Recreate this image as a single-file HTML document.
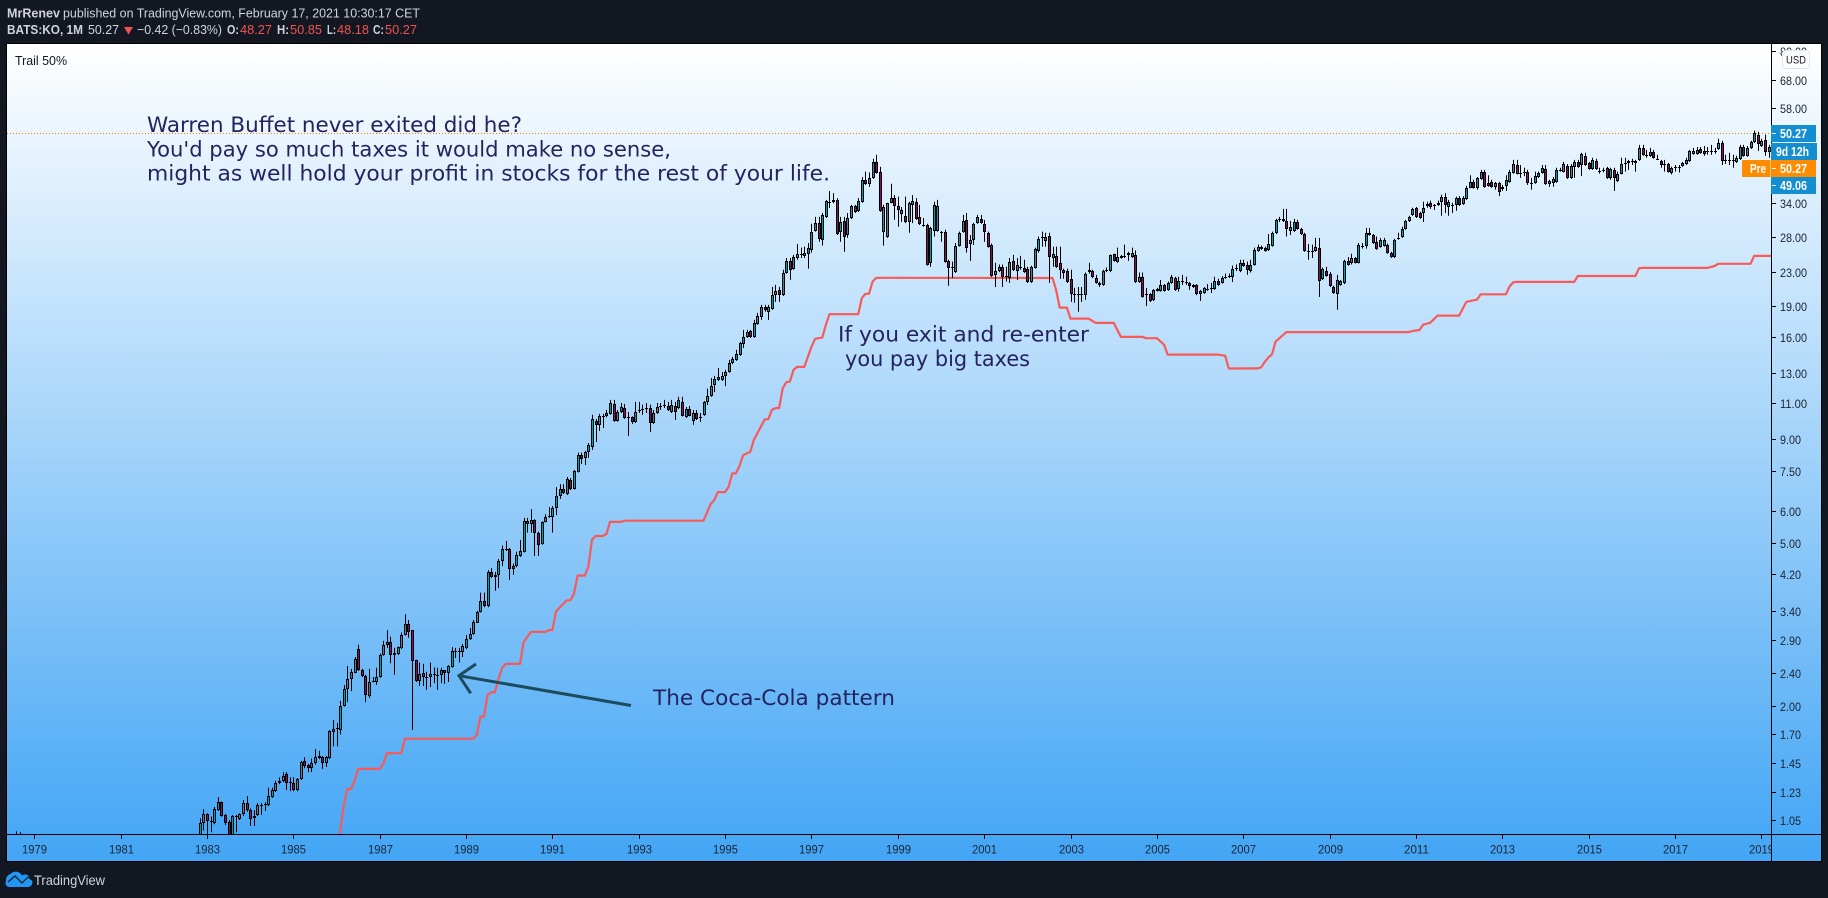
<!DOCTYPE html>
<html>
<head>
<meta charset="utf-8">
<title>KO monthly chart</title>
<style>
html,body{margin:0;padding:0;background:#131722;width:1828px;height:898px;overflow:hidden}
svg{display:block}
text{font-family:"Liberation Sans",sans-serif}
.note{font-family:"DejaVu Sans","Liberation Sans",sans-serif}
</style>
</head>
<body>
<svg id="chart" xmlns="http://www.w3.org/2000/svg" width="1828" height="898" viewBox="0 0 1828 898">
  <defs>
    <linearGradient id="bg" x1="0" y1="0" x2="0" y2="1">
      <stop offset="0" stop-color="#ffffff"/>
      <stop offset="1" stop-color="#42a5f5"/>
    </linearGradient>
    <clipPath id="plotClip"><rect x="7" y="44" width="1764" height="790"/></clipPath>
    <clipPath id="timeClip"><rect x="7" y="834" width="1764" height="27"/></clipPath>
  </defs>
  <rect x="0" y="0" width="1828" height="898" fill="#131722"/>

  <g fill="#d1d4dc" font-size="13">
    <text x="7" y="17.5" font-weight="bold" textLength="53" lengthAdjust="spacingAndGlyphs">MrRenev</text>
    <text x="63" y="17.5" textLength="357" lengthAdjust="spacingAndGlyphs">published on TradingView.com, February 17, 2021 10:30:17 CET</text>
    <text x="7" y="34" font-weight="bold" textLength="76" lengthAdjust="spacingAndGlyphs">BATS:KO, 1M</text>
    <text x="88" y="34" textLength="31" lengthAdjust="spacingAndGlyphs">50.27</text>
    <polygon points="124,27 133,27 128.5,34.5" fill="#ef5350"/>
    <text x="137" y="34" textLength="85" lengthAdjust="spacingAndGlyphs">−0.42 (−0.83%)</text>
    <text x="227" y="34" font-weight="bold" textLength="12" lengthAdjust="spacingAndGlyphs">O:</text>
    <text x="240" y="34" fill="#ef5350" textLength="32" lengthAdjust="spacingAndGlyphs">48.27</text>
    <text x="277" y="34" font-weight="bold" textLength="12" lengthAdjust="spacingAndGlyphs">H:</text>
    <text x="290" y="34" fill="#ef5350" textLength="32" lengthAdjust="spacingAndGlyphs">50.85</text>
    <text x="327" y="34" font-weight="bold" textLength="9" lengthAdjust="spacingAndGlyphs">L:</text>
    <text x="337" y="34" fill="#ef5350" textLength="32" lengthAdjust="spacingAndGlyphs">48.18</text>
    <text x="373" y="34" font-weight="bold" textLength="11" lengthAdjust="spacingAndGlyphs">C:</text>
    <text x="385" y="34" fill="#ef5350" textLength="32" lengthAdjust="spacingAndGlyphs">50.27</text>
  </g>

  <rect x="6.5" y="43.5" width="1815" height="818" fill="url(#bg)" stroke="#000" stroke-width="1"/>
  <text x="15" y="65" font-size="12.5" fill="#131722" textLength="52" lengthAdjust="spacingAndGlyphs">Trail 50%</text>

  <g id="plot" clip-path="url(#plotClip)"></g>

  <line x1="1771.5" y1="44" x2="1771.5" y2="861" stroke="#000"/>
  <line x1="7" y1="834.5" x2="1821" y2="834.5" stroke="#000"/>
  <g id="priceAxis"></g>
  <g id="timeAxis" clip-path="url(#timeClip)"></g>

  <g class="note" font-size="21.5" fill="#25235f">
    <text class="note" x="147" y="132" textLength="375" lengthAdjust="spacingAndGlyphs">Warren Buffet never exited did he?</text>
    <text class="note" x="147" y="156.5" textLength="524" lengthAdjust="spacingAndGlyphs">You'd pay so much taxes it would make no sense,</text>
    <text class="note" x="147" y="180.5" textLength="683" lengthAdjust="spacingAndGlyphs">might as well hold your profit in stocks for the rest of your life.</text>
  </g>
  <g class="note" font-size="21.5" fill="#25235f">
    <text class="note" x="838" y="341.5" textLength="251" lengthAdjust="spacingAndGlyphs">If you exit and re-enter</text>
    <text class="note" x="845" y="366" textLength="185" lengthAdjust="spacingAndGlyphs">you pay big taxes</text>
  </g>
  <text class="note" x="653" y="705" font-size="21.5" fill="#25235f" textLength="242" lengthAdjust="spacingAndGlyphs">The Coca-Cola pattern</text>
  <g fill="none" stroke="#1d4b5d" stroke-width="3">
    <line x1="631" y1="705.5" x2="459" y2="675.7"/>
    <polyline points="476,664 459,675.7 470.7,693.3"/>
  </g>

  <g font-size="13" font-weight="bold" fill="#fff">
    <rect x="1771" y="125" width="45" height="17" fill="#138ed0"/>
    <text x="1780" y="138" textLength="27" lengthAdjust="spacingAndGlyphs">50.27</text>
    <rect x="1771" y="143" width="46" height="17" fill="#138ed0"/>
    <text x="1776" y="156" textLength="33" lengthAdjust="spacingAndGlyphs">9d 12h</text>
    <rect x="1742" y="160" width="28.5" height="17" fill="#ff8c00"/>
    <text x="1750" y="173" textLength="16" lengthAdjust="spacingAndGlyphs">Pre</text>
    <rect x="1771" y="160" width="45" height="17" fill="#ff8c00"/>
    <text x="1780" y="173" textLength="27" lengthAdjust="spacingAndGlyphs">50.27</text>
    <rect x="1771" y="177" width="45" height="17" fill="#138ed0"/>
    <text x="1780" y="190" textLength="27" lengthAdjust="spacingAndGlyphs">49.06</text>
    <line x1="1772" y1="133.5" x2="1776" y2="133.5" stroke="#fff"/>
    <line x1="1772" y1="168.5" x2="1776" y2="168.5" stroke="#fff"/>
    <line x1="1772" y1="185.5" x2="1776" y2="185.5" stroke="#fff"/>
  </g>

  <g id="priceAxisTop"></g>

  <g>
    <rect x="1782.5" y="50.5" width="27" height="18" rx="3.5" fill="#fff" fill-opacity=".9" stroke="#dfe3ea"/>
    <text x="1786" y="63.5" font-size="11" fill="#131722" textLength="20" lengthAdjust="spacingAndGlyphs">USD</text>
  </g>

  <g>
    <path d="M10 887H28a4.5 4.5 0 0 0 2-8.5a5 5 0 0 0-8-3a7 7 0 0 0-11-2l-1 .5a6.5 6.5 0 0 0-4 7a4 4 0 0 0 4 6z" fill="#2196f3"/>
    <polyline points="8,882 15,876 22,883 28,877 32,880" fill="none" stroke="#131722" stroke-width="1.2"/>
    <text x="34" y="885" font-size="13.5" fill="#d1d4dc" textLength="71" lengthAdjust="spacingAndGlyphs">TradingView</text>
  </g>
</svg>
<script>
// Monthly candles, first candle = Nov 1982
const opens = [
.96,1.03,1.086,1.044,1.033,1.11,1.161,1.08,1.04,.96,
1.075,1.056,1.086,1.155,1.11,1.06,1.08,1.14,1.145,1.145,
1.195,1.235,1.29,1.31,1.36,1.30,1.295,1.243,1.32,1.465,
1.43,1.405,1.445,1.505,1.495,1.445,1.485,1.725,1.76,1.743,
2.0,2.195,2.325,2.41,2.755,2.445,2.365,2.11,2.285,2.28,
2.35,2.66,2.82,2.87,2.66,2.68,2.77,2.98,3.17,3.06,
2.587,2.30,2.40,2.35,2.35,2.39,2.38,2.37,2.44,2.40,
2.485,2.72,2.71,2.71,2.77,2.91,3.0,3.19,3.39,3.61,
3.50,4.25,4.13,4.17,4.52,4.83,4.83,4.32,4.39,4.65,
4.76,5.66,5.57,5.69,5.30,4.98,5.63,5.79,5.79,6.09,
6.52,6.78,6.59,7.13,6.78,7.47,8.22,8.08,8.35,8.6,
9.95,9.73,10.24,10.2,10.35,10.95,9.95,10.46,10.7,10.15,
10.15,9.89,10.52,10.58,10.64,10.7,9.83,10.4,10.76,10.8,
10.82,10.46,10.82,10.7,11.07,10.15,10.64,9.95,10.4,10.15,
10.3,11.07,11.46,12.17,12.53,12.53,12.82,13.1,13.75,14.03,
14.43,15.37,15.97,16.52,15.97,17.17,17.87,18.9,18.4,18.7,
20.2,20.81,20.2,22.9,24.5,23.45,24.9,25.5,25.2,25.5,
26.07,29.0,30.37,27.6,31.4,34.2,34.2,34.56,28.85,30.7,
28.35,31.2,33.4,32.5,34.2,38.7,37.85,39.1,42.8,40.5,
28.9,28.1,34.0,34.9,33.4,31.95,31.6,30.5,33.6,34.2,
31.4,30.0,30.0,24.15,29.0,29.0,28.9,28.9,24.5,23.7,
23.0,26.7,28.9,30.88,26.96,27.6,30.37,31.05,30.2,28.7,
26.85,22.65,23.15,23.7,22.4,22.25,24.5,23.15,23.7,23.6,
23.45,21.75,23.6,25.9,27.9,27.4,28.25,24.9,25.2,24.25,
23.3,23.15,22.15,20.3,20.25,20.3,20.25,22.95,23.15,22.25,
21.65,21.4,23.15,23.15,25.5,24.4,24.9,25.2,25.66,25.05,
25.35,21.75,22.4,20.25,20.35,19.67,20.7,20.7,21.4,20.81,
21.65,22.25,20.9,21.9,21.75,21.65,21.4,21.4,20.35,20.45,
20.95,20.9,20.9,21.9,21.65,22.25,22.4,22.4,23.45,23.15,
24.25,24.0,23.15,24.0,25.9,26.55,26.4,26.07,26.7,28.7,
30.88,31.05,30.7,29.0,29.0,30.5,29.35,28.5,25.9,25.8,
25.9,26.4,22.15,23.15,22.8,21.15,20.3,21.4,21.65,24.5,
24.25,24.9,24.25,26.7,26.7,28.7,28.35,27.3,26.55,26.7,
26.85,25.66,25.05,27.75,28.1,29.35,30.7,31.75,33.05,32.1,
32.1,33.4,34.0,33.4,33.6,34.2,35.2,33.2,33.6,33.6,
34.9,33.75,34.75,37.0,38.25,37.0,38.9,40.5,38.05,38.25,
37.2,38.05,37.2,37.4,38.25,40.3,42.05,40.3,40.5,40.5,
38.05,38.05,39.3,40.3,41.15,37.85,38.05,38.25,40.9,40.5,
41.85,39.1,41.65,42.8,42.05,44.3,42.55,41.15,43.05,40.7,
40.7,41.4,39.1,40.9,38.45,40.05,42.55,42.55,43.05,42.55,
43.3,46.3,44.55,44.3,45.3,43.55,43.05,42.3,42.3,40.3,
41.65,41.65,41.85,42.3,43.05,44.8,44.8,46.05,45.55,45.55,
45.55,45.55,46.05,47.6,43.3,43.3,43.3,42.8,43.55,46.55,
44.3,46.3,47.9,49.9,46.8,48.47,45.3];
const closes = [
1.03,1.085,1.044,1.04,1.117,1.161,1.075,1.033,.96,1.075,
1.07,1.086,1.155,1.11,1.056,1.075,1.142,1.145,1.15,1.2,
1.243,1.293,1.31,1.345,1.29,1.30,1.243,1.32,1.457,1.42,
1.405,1.445,1.495,1.485,1.445,1.495,1.735,1.753,1.755,2.0,
2.195,2.325,2.42,2.60,2.445,2.365,2.125,2.285,2.30,2.35,
2.66,2.82,2.87,2.66,2.69,2.78,2.98,3.17,3.02,2.57,
2.30,2.39,2.35,2.34,2.39,2.38,2.38,2.445,2.40,2.495,
2.72,2.71,2.72,2.80,2.91,3.0,3.20,3.39,3.61,3.50,
4.25,4.13,4.17,4.52,4.83,4.81,4.32,4.40,4.67,4.78,
5.66,5.57,5.69,5.30,4.95,5.63,5.79,5.82,6.09,6.52,
6.78,6.62,7.17,6.78,7.50,8.22,8.03,8.35,8.70,10.06,
9.73,10.24,10.2,10.4,11.0,9.95,10.46,10.76,10.11,10.11,
9.89,10.46,10.58,10.64,10.7,9.83,10.4,10.76,10.8,10.88,
10.58,10.88,10.46,11.2,10.24,10.64,10.24,10.4,10.06,10.11,
11.07,11.46,12.12,12.6,12.75,12.82,13.1,13.8,14.1,14.5,
15.45,15.97,16.43,15.97,17.27,17.97,18.9,18.59,18.9,20.2,
20.7,20.2,22.9,24.5,23.3,25.05,25.5,25.35,25.66,26.4,
28.9,30.37,27.75,31.75,34.4,34.0,34.56,28.5,30.5,28.0,
31.2,33.4,32.3,34.4,38.7,37.85,39.1,42.8,40.3,32.5,
33.2,33.9,34.9,33.4,32.67,32.67,30.5,34.0,34.4,31.05,
30.2,29.85,24.0,29.5,33.6,33.4,28.7,24.4,23.55,23.55,
26.7,28.7,30.7,26.4,27.6,30.2,31.4,30.37,28.9,26.55,
22.55,23.15,23.7,22.4,22.45,24.4,23.3,23.95,23.6,23.0,
21.75,23.7,26.25,27.75,28.0,28.1,25.05,25.5,23.7,23.3,
22.9,21.75,20.3,20.25,20.3,20.25,22.8,23.3,22.4,21.65,
21.4,23.15,23.3,25.35,24.5,25.05,25.2,25.05,25.35,25.66,
21.75,22.4,20.0,20.35,19.55,20.81,20.9,21.4,20.7,21.65,
22.4,20.81,21.9,21.75,21.8,21.3,21.15,20.3,20.7,21.05,
20.9,21.05,21.9,21.4,22.25,22.4,22.5,23.45,23.6,24.15,
23.85,23.3,24.0,26.07,26.55,26.25,25.9,27.0,28.7,30.88,
31.05,30.7,29.35,29.7,30.5,29.35,28.5,25.9,25.8,25.9,
26.55,21.9,23.45,22.55,21.3,20.45,22.0,21.9,24.5,24.0,
24.9,24.25,26.85,26.7,28.7,28.35,27.1,26.25,27.6,27.6,
25.66,25.05,27.6,27.9,29.35,30.7,31.4,32.85,31.4,31.2,
33.05,33.75,33.2,33.5,34.0,35.2,33.6,34.2,33.6,34.9,
33.6,34.9,37.0,38.25,37.0,39.1,40.5,37.2,37.4,37.2,
38.05,36.15,36.8,38.7,40.5,42.3,40.05,40.05,40.3,38.05,
38.05,39.5,40.3,41.4,37.85,38.45,38.9,40.9,40.7,42.3,
39.1,41.85,42.8,41.65,44.8,42.05,41.15,43.3,41.15,40.7,
40.9,39.1,41.15,39.1,40.05,42.3,42.55,43.05,43.05,43.05,
46.3,44.55,44.55,45.3,43.8,43.55,42.05,42.3,40.5,41.4,
41.65,41.65,42.55,43.3,45.55,45.55,45.8,45.05,44.8,45.55,
45.55,45.55,47.6,43.05,43.3,43.3,43.3,43.8,46.55,44.3,
46.3,47.9,50.5,47.35,48.2,45.3,46.55];
const highs = [
1.06,1.117,1.09,1.07,1.13,1.195,1.165,1.087,1.05,1.08,
1.08,1.09,1.175,1.2,1.12,1.11,1.155,1.155,1.16,1.26,
1.26,1.31,1.335,1.375,1.375,1.335,1.335,1.33,1.465,1.495,
1.44,1.485,1.565,1.55,1.505,1.505,1.743,1.844,1.815,2.055,
2.245,2.50,2.46,2.63,2.82,2.46,2.38,2.46,2.35,2.475,
2.68,2.88,3.06,2.95,2.77,2.79,3.02,3.35,3.24,3.06,
2.59,2.55,2.53,2.42,2.55,2.48,2.475,2.475,2.44,2.51,
2.78,2.77,2.77,2.83,2.98,3.10,3.24,3.41,3.78,3.78,
4.29,4.34,4.25,4.57,4.93,5.06,4.86,4.45,4.76,5.09,
5.76,5.76,6.05,5.72,5.33,5.65,5.88,6.12,6.16,6.85,
6.96,6.96,7.25,7.21,7.55,8.32,8.32,8.40,8.78,10.3,
10.06,10.35,10.35,10.58,11.2,11.2,10.58,11.0,10.95,10.46,
10.2,11.07,11.07,10.9,11.0,10.9,10.58,11.0,11.0,11.2,
11.07,11.2,11.07,11.4,11.4,10.76,10.82,10.58,10.58,10.4,
11.13,11.93,12.67,12.82,13.4,13.1,13.26,14.03,14.27,14.84,
15.53,16.61,16.61,16.61,17.57,18.28,19.12,19.12,19.12,21.16,
21.4,21.16,23.3,24.9,24.9,25.35,26.96,26.4,26.55,27.1,
30.2,31.4,31.4,32.1,34.56,36.3,35.9,34.9,31.4,31.4,
32.1,33.6,33.6,34.9,39.3,40.5,40.3,43.55,44.55,41.65,
33.6,34.0,37.85,35.5,35.2,33.2,35.2,34.2,35.5,34.9,
33.6,31.2,30.2,29.7,34.2,34.56,29.0,29.2,24.65,24.4,
27.1,28.9,31.75,32.1,28.35,30.37,31.75,31.75,30.88,28.9,
27.0,24.25,24.0,24.0,23.7,24.9,25.35,24.9,25.2,24.65,
23.7,23.85,26.4,28.1,28.9,28.7,28.7,26.55,26.55,26.55,
23.45,23.45,23.3,21.05,21.15,21.15,22.95,24.25,23.3,22.65,
21.8,23.3,23.6,25.4,25.5,26.4,25.35,26.85,25.8,26.4,
26.0,22.95,22.95,21.05,20.45,20.9,21.05,22.0,21.5,21.8,
22.65,22.4,22.4,22.65,22.4,21.75,21.5,21.5,20.8,21.15,
21.5,21.65,22.4,22.15,22.5,22.8,22.8,23.85,24.0,24.65,
24.65,24.4,24.65,26.4,26.85,26.7,26.55,28.5,28.9,31.05,
31.4,32.85,32.85,30.7,31.05,30.88,29.5,28.7,26.96,26.85,
27.9,27.9,23.6,23.7,23.0,21.3,22.65,22.0,24.65,25.05,
25.5,25.05,27.1,27.1,29.5,29.5,28.5,28.1,27.9,27.9,
27.0,25.8,27.75,28.7,29.7,30.88,31.6,33.05,33.2,32.3,
34.2,34.2,34.4,33.75,34.4,35.6,35.9,34.56,34.0,35.2,
35.3,35.3,37.4,39.7,38.7,39.3,40.9,40.9,39.7,38.7,
38.25,38.25,37.6,39.7,40.9,43.3,43.3,42.05,41.4,40.9,
39.1,40.5,40.5,42.05,42.05,38.7,39.3,41.4,41.4,42.8,
42.3,42.3,43.3,43.3,45.05,45.05,42.8,43.8,43.55,41.4,
41.4,41.65,41.4,41.4,40.5,43.8,43.8,43.3,43.55,43.3,
47.1,47.1,45.8,46.3,45.8,44.55,43.3,43.3,42.55,41.65,
42.05,42.05,42.8,43.8,45.8,46.3,46.55,46.55,46.8,46.55,
47.1,46.3,48.75,48.2,44.55,45.05,44.55,44.3,47.1,47.1,
46.8,48.2,51.05,50.7,48.75,49.9,47.1];
const lows = [
.94,.99,.96,.98,1.025,1.105,1.07,1.02,.95,.955,
.98,1.05,1.075,1.10,1.015,1.015,1.075,1.08,1.105,1.135,
1.19,1.23,1.285,1.30,1.243,1.235,1.235,1.235,1.315,1.405,
1.375,1.375,1.435,1.48,1.40,1.415,1.48,1.59,1.59,1.70,
1.99,2.04,2.17,2.40,2.43,2.35,2.04,2.09,2.28,2.25,
2.34,2.65,2.77,2.54,2.38,2.66,2.75,2.97,2.93,1.743,
2.285,2.235,2.235,2.185,2.22,2.27,2.185,2.27,2.26,2.285,
2.475,2.615,2.55,2.63,2.75,2.895,2.98,3.19,3.38,3.48,
3.48,4.11,3.82,3.88,4.39,4.78,4.06,4.18,4.36,4.62,
4.74,5.30,5.30,4.65,4.65,4.95,5.61,5.76,5.30,5.85,
6.41,6.59,6.55,6.74,6.76,7.44,7.80,7.76,8.08,8.45,
8.83,9.4,9.56,10.15,10.3,9.9,9.9,10.4,10.06,9.14,
9.78,9.83,10.4,10.3,10.4,9.35,9.78,10.35,10.58,10.7,
10.52,10.4,10.0,10.64,10.2,10.11,10.2,9.73,10.0,9.89,
10.24,10.88,11.4,11.7,12.46,12.46,12.1,13.05,13.7,13.95,
14.35,15.0,15.88,15.88,15.88,17.08,17.57,18.4,17.57,18.6,
19.45,19.45,20.1,22.8,22.02,23.3,24.65,24.9,24.9,23.45,
25.66,28.9,27.3,26.7,31.2,33.0,33.9,28.35,27.3,25.8,
27.9,31.0,32.1,32.3,34.0,37.6,37.2,38.9,40.05,32.3,
26.7,27.9,33.9,30.9,29.7,30.5,30.3,28.7,30.3,30.9,
30.0,29.7,23.85,23.7,28.1,28.9,27.3,24.25,21.3,22.25,
22.9,26.55,28.7,25.66,24.5,26.8,30.2,30.2,27.3,26.4,
22.4,21.15,23.0,21.15,21.8,21.65,23.15,22.0,23.3,22.9,
21.65,21.65,23.45,25.66,26.55,26.55,21.65,23.7,23.55,22.15,
22.15,21.65,19.45,19.35,18.4,19.45,19.67,22.8,22.25,21.55,
21.15,21.3,23.0,23.0,24.4,24.25,24.8,24.9,24.5,24.9,
21.65,21.65,19.9,19.0,19.45,19.55,20.6,20.6,20.6,20.7,
21.55,20.7,20.6,21.4,21.4,20.81,21.05,20.2,19.55,20.35,
20.7,20.45,20.81,21.3,21.55,22.15,22.25,21.75,23.15,23.0,
23.7,22.65,22.95,23.85,25.8,26.07,25.8,25.9,26.55,28.5,
30.5,30.5,28.1,28.35,28.85,29.2,28.35,25.8,24.65,24.9,
25.8,20.0,22.0,22.4,21.15,20.35,18.6,21.3,21.5,23.85,
24.0,24.15,24.15,26.25,26.25,28.25,26.96,26.07,26.4,26.55,
25.5,24.9,24.9,27.6,27.9,29.2,30.5,31.6,31.2,31.05,
30.5,33.05,32.85,32.67,33.4,31.6,32.1,31.6,32.1,32.5,
33.4,33.6,34.56,36.9,36.8,36.6,38.7,37.0,37.2,37.0,
36.6,35.3,36.35,36.35,38.05,40.05,39.85,39.1,39.5,37.6,
36.6,37.85,39.1,40.05,37.6,37.2,37.2,38.05,40.5,40.3,
38.9,38.9,39.1,41.4,39.5,41.85,40.9,40.9,40.9,40.05,
40.3,38.9,38.7,36.35,38.25,39.9,40.5,40.9,42.05,40.5,
43.05,44.3,43.8,44.05,43.55,43.3,41.4,40.5,40.3,39.9,
40.5,40.3,41.65,42.05,42.8,44.55,44.55,44.8,44.3,44.55,
44.55,44.8,45.8,42.05,42.3,42.05,41.4,42.55,43.3,44.05,
44.05,46.05,47.6,45.55,46.55,44.3,43.8];

// Two stray candles from 1978 of which only the wick tips show above the axis
const earlyMonths = [-51,-50];
const earlyHighs = [.985,.98];
const earlyLows = [.9,.9];

// Trail 50% stop: month index of each turning point and the stop's price there
const trailMonths = [38,39,40,41,42,43,44,50,51,52,56,57,76,77,78,79,80,81,82,83,84,85,89,90,92,96,97,98,99,102,103,104,105,107,108,109,110,112,113,114,117,118,140,142,143,144,146,147,148,149,150,151,153,154,157,158,159,160,161,162,163,164,165,166,168,170,171,173,174,175,183,184,185,186,187,188,237,238,239,241,242,247,249,254,256,262,263,266,268,269,283,285,286,294,295,296,297,298,299,300,302,336,337,339,340,342,344,350,352,355,356,363,364,365,366,382,383,399,400,401,419,421,422,431,432,437];
const trailValues = [.912,.98,1.136,1.25,1.25,1.307,1.40,1.40,1.44,1.53,1.53,1.66,1.66,1.695,1.88,1.88,2.125,2.155,2.155,2.32,2.47,2.53,2.53,2.86,3.03,3.03,3.06,3.06,3.40,3.62,3.62,3.76,4.16,4.16,4.38,5.09,5.2,5.2,5.26,5.63,5.63,5.67,5.67,6.23,6.37,6.66,6.66,6.87,7.40,7.40,7.72,8.2,8.36,8.94,10.03,10.04,10.58,10.69,10.69,11.95,12.37,12.41,13.26,13.48,13.48,15.1,15.8,15.9,17.1,18.14,18.14,19.86,20.35,20.35,21.8,22.27,22.25,20.8,18.83,18.83,17.7,17.7,17.28,17.28,15.97,15.97,15.85,15.85,15.28,14.45,14.45,14.35,13.36,13.37,13.45,13.87,14.23,14.47,15.55,15.83,16.4,16.4,16.5,16.6,17.1,17.3,18.0,18.0,19.45,19.7,20.3,20.3,21.2,21.7,21.77,21.77,22.5,22.5,23.5,23.55,23.55,23.8,24.1,24.1,25.2,25.2];

// Axis labels
const priceTickLabels = ["80.00","68.00","58.00","34.00","28.00","23.00","19.00","16.00","13.00","11.00","9.00","7.50","6.00","5.00","4.20","3.40","2.90","2.40","2.00","1.70","1.45","1.23","1.05"];
const yearTickLabels = ["1979","1981","1983","1985","1987","1989","1991","1993","1995","1997","1999","2001","2003","2005","2007","2009","2011","2013","2015","2017","2019"];
const lastPriceValue = [50.27];

// Axis functions
const firstCandleYear = 1982 + 10 / 12;
function xOfMonth(i) { return 199.8 + 3.598 * i; }
function xOfYear(year) { return xOfMonth((year - firstCandleYear) * 12); }
function yOfPrice(p) { return 820 - 177.5 * Math.log(p / 1.05); }

const NS = 'http://www.w3.org/2000/svg';
function make(tag, parent, attrs) {
  const node = document.createElementNS(NS, tag);
  for (const key in attrs) { node.setAttribute(key, attrs[key]); }
  parent.appendChild(node);
  return node;
}
const plot = document.getElementById('plot');
const priceAxis = document.getElementById('priceAxis');
const timeAxis = document.getElementById('timeAxis');

// Last-price dotted line
const lastLine = make('line', plot, { x1: 7, x2: 1771, y1: Math.round(yOfPrice(lastPriceValue[0])) + 0.5, y2: Math.round(yOfPrice(lastPriceValue[0])) + 0.5, stroke: '#f57c00', 'stroke-width': 1, 'stroke-dasharray': '1 2' });



// Trail line
const trailPoints = trailMonths.map(function (m, k) { return xOfMonth(m).toFixed(1) + ',' + yOfPrice(trailValues[k]).toFixed(1); }).join(' ');
const trailLine = make('polyline', plot, { points: trailPoints, fill: 'none', stroke: '#f85a5a', 'stroke-width': 2.2, 'stroke-linejoin': 'round' });



// Early wick tips
earlyMonths.forEach(function (m, k) {
  const x = Math.round(xOfMonth(m)) + 0.5;
  const wick = make('line', plot, { x1: x, x2: x, y1: yOfPrice(earlyHighs[k]), y2: yOfPrice(earlyLows[k]), stroke: '#000', 'stroke-width': 1 });
  
  
});

// Candles
opens.forEach(function (o, i) {
  const c = closes[i];
  const x = Math.round(xOfMonth(i));
  const up = c >= o;
  const top = Math.round(yOfPrice(Math.max(o, c)));
  const bottom = Math.round(yOfPrice(Math.min(o, c)));
  const h = Math.max(1, bottom - top);
  const group = make('g', plot, {});
  
  
  make('line', group, { x1: x + 0.5, x2: x + 0.5, y1: yOfPrice(highs[i]), y2: yOfPrice(lows[i]), stroke: '#000', 'stroke-width': 1 });
  make('rect', group, { x: x - 1, y: top, width: 3, height: h, fill: '#000' });
  if (h >= 3) {
    make('rect', group, { x: x, y: top + 1, width: 1, height: h - 2, fill: up ? '#0b9aa8' : '#8c0f55' });
  }
});

// Price axis
priceTickLabels.forEach(function (label) {
  const y = Math.round(yOfPrice(parseFloat(label))) + 0.5;
  const tick = make('line', priceAxis, { x1: 1772, x2: 1776, y1: y, y2: y, stroke: '#000', 'stroke-width': 1 });
  
  
  const text = make('text', priceAxis, { x: 1780, y: y + 4.5, 'font-size': 12, fill: '#1b2433', textLength: (label.length - 1) * 6 + 3, lengthAdjust: 'spacingAndGlyphs' });
  
  
  text.textContent = label;
});

// Time axis
yearTickLabels.forEach(function (label) {
  const x = Math.round(xOfYear(parseInt(label, 10))) + 0.5;
  const tick = make('line', timeAxis, { x1: x, x2: x, y1: 835, y2: 839, stroke: '#000', 'stroke-width': 1 });
  
  
  const text = make('text', timeAxis, { x: x - 12.5, y: 853.5, 'font-size': 12, fill: '#1b2433', textLength: 25, lengthAdjust: 'spacingAndGlyphs' });
  
  
  text.textContent = label;
});
</script>
</body>
</html>
